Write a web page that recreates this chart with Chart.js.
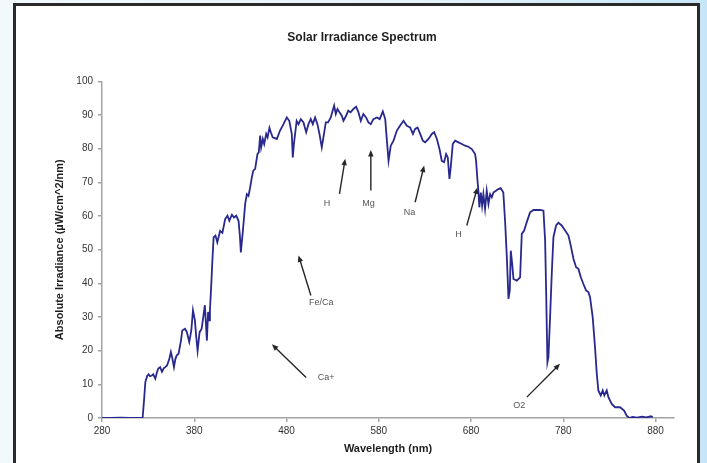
<!DOCTYPE html>
<html>
<head>
<meta charset="utf-8">
<title>Solar Irradiance Spectrum</title>
<script src="https://cdn.jsdelivr.net/npm/chart.js@4.4.1/dist/chart.umd.min.js"></script>
<style>
    html, body {
        margin: 0;
        padding: 0;
        width: 707px;
        height: 463px;
        overflow: hidden;
        background: linear-gradient(to right, #f2f9fd 0%, #e4f2fb 60%, #c6e6f7 100%);
    }
    #frame {
        position: absolute;
        left: 13px;
        top: 3px;
        width: 681px;
        height: 480px;
        background: #ffffff;
        border: 3px solid #2a2a2a;
    }
    #spectrum {
        position: absolute;
        left: 0;
        top: 0;
    }
</style>
</head>
<body>
<div id="frame"></div>
<canvas id="spectrum" width="707" height="463"></canvas>

<script>
// Spectrum data (wavelength in nm, irradiance in uW/cm^2/nm)
const wavelengths = [
    280, 290, 300, 310, 320, 324, 325.5, 327, 329, 330.5, 332, 334, 335.5, 337.8, 339.5,
    341, 343, 345, 347, 348.6, 350.5, 353, 354.7, 356, 358, 359.5, 361, 363, 365.6, 367,
    370, 372, 374.6, 376.8, 378.6, 380.7, 382, 383.6, 385.8, 388, 390, 391.5, 393.7, 395, 396,
    397, 398.5, 399.5, 401, 403, 405, 408, 410.5, 413.5, 416, 418, 420.8, 423, 425.5, 428,
    429.5, 430.5, 432.7, 435.2, 437, 438.8, 440.6, 442.4, 444, 446, 448.5, 450, 451.4, 452.5, 454.3,
    455.8, 458, 459.5, 461.5, 463, 465, 469.5, 473, 476.7, 480.3, 483, 485.7, 486.8, 488, 491,
    493, 495.5, 498.4, 501.3, 503.8, 506.3, 508.5, 511, 513.5, 515.7, 518.2, 520, 522.6, 525, 528,
    530, 531.6, 533.4, 535.2, 537.5, 539.9, 541.7, 544.6, 547, 549.5, 552.5, 555.4, 558, 560.5, 563.3,
    566.2, 568.8, 571.3, 574.2, 578, 581, 584.4, 587, 588.8, 590.6, 593, 596, 599.6, 603, 606.8,
    610.4, 614, 617, 619.4, 622, 624.9, 627.7, 630.3, 633.9, 637.5, 640, 643, 645.8, 648.3, 650.8,
    653, 654.8, 656.6, 658, 660.2, 662.8, 666.4, 670, 673.6, 677.2, 680.8, 684.4, 685.5, 687, 688,
    689, 690.6, 692, 693.4, 695.2, 697, 698.9, 700.7, 702.5, 704.3, 707, 709.7, 712.2, 715, 717,
    718.8, 720.6, 722, 723.1, 724.6, 726, 729.6, 733.2, 735, 737.6, 740.4, 744, 747.7, 751, 754.9,
    758.5, 760.3, 761.4, 762.8, 763.9, 765.7, 767.5, 769.3, 772.2, 774.7, 778.3, 782, 785.6, 788.1, 791,
    793.9, 796.4, 799, 801.8, 804.7, 807.2, 809, 811.9, 814.4, 816.3, 818, 820.6, 822.7, 824.5, 827.1,
    828.9, 832.5, 836.1, 841.5, 845.9, 848.7, 851.6, 855, 860, 865, 870, 875, 877
];
const irradiance = [
    0, 0, 0.1, 0, 0, 0, 5, 10.7, 12.5, 13, 12.4, 12.6, 13, 11.7, 13.5,
    14.7, 15.1, 13.7, 14.8, 15.1, 15.6, 17.6, 19.6, 18.1, 15.1, 17.5, 18.6, 19.1, 23, 26,
    26.5, 25.5, 22.6, 26, 32, 29, 24.5, 20, 25.5, 26.5, 30.5, 33.5, 23, 31.5, 29,
    32, 40, 46, 53.7, 54.2, 52.2, 55.6, 55, 59.1, 60.1, 58.6, 60.4, 59.6, 60.1, 58.6,
    54, 49.2, 55.6, 63.6, 66.5, 66, 68.5, 71.5, 73.5, 74, 78.4, 79, 83.9, 80.4, 82.9,
    81.4, 84.4, 83.4, 86.2, 84.9, 83.4, 82.9, 85.4, 87.3, 89.3, 88.3, 84.4, 77.4, 81.4, 88.3,
    87.3, 88.8, 87.8, 84.9, 87.3, 88.8, 87.3, 89.3, 87.3, 84.4, 80.4, 83.4, 87.8, 87.8, 89.3,
    91.3, 92.8, 90.3, 91.8, 90.8, 89.8, 88.3, 89.8, 91.3, 90.8, 91.8, 92.5, 90.8, 88.3, 90.3,
    89.3, 87.8, 87.3, 88.8, 89.3, 88.8, 91.1, 88.8, 82.4, 76.4, 80.9, 82.4, 85.4, 86.8, 88.3,
    86.8, 86.3, 84.4, 85.9, 86.3, 84.4, 82.4, 81.9, 82.9, 84.4, 84.9, 82.9, 79.9, 76.4, 76,
    78.4, 77.4, 71, 74.5, 81.4, 82.4, 81.9, 81.4, 80.9, 80.6, 79.9, 78.4, 76.4, 70.5, 67.5,
    62.6, 67, 63.1, 66.5, 62.1, 67.5, 63.6, 66.5, 65.6, 67, 67.5, 68, 68.3, 67, 58,
    47.8, 35.4, 37.9, 49.7, 45.8, 41.3, 40.8, 41.8, 54.7, 55.7, 58.2, 61.1, 61.8, 61.8, 61.8,
    61.6, 52.7, 37.9, 16.6, 18.1, 30, 42.8, 53.7, 57.2, 58, 57.2, 55.7, 54.2, 51.2, 47.3,
    44.8, 44.3, 41.8, 39.8, 37.9, 37.4, 35.9, 29.9, 21, 13.1, 8.2, 6.7, 8.2, 6.7, 8.2,
    6.2, 4.2, 3.2, 3.2, 2.2, 0.7, 0, 0.3, 0.1, 0.4, 0.2, 0.5, 0.2
];

// Axis ticks
const xTicks = [280, 380, 480, 580, 680, 780, 880];
const yTicks = [0, 10, 20, 30, 40, 50, 60, 70, 80, 90, 100];

// Annotations (positions in data units: wavelength, irradiance)
const annoLabels = ['H', 'Mg', 'Na', 'H', 'O2', 'Fe/Ca', 'Ca+'];
const annoTextAt = [[524, 63.7], [568.8, 63.7], [613.3, 61.1], [666.3, 54.5], [732.4, 3.8], [517.6, 34.3], [523, 12.1]];
const arrowFrom = [[537.4, 66.6], [571.4, 67.6], [619.4, 64.1], [675.4, 57.2], [740.5, 6.2], [506.4, 36.4], [501.3, 12]];
const arrowTo = [[543.6, 77], [571.4, 79.6], [629.2, 75], [686.9, 68.5], [776.5, 16.1], [493, 48.3], [464.2, 21.9]];

// Plugin to draw the labelled arrows on top of the spectrum
const arrowPlugin = {
    id: 'arrows',
    afterDatasetsDraw(chart) {
        const ctx = chart.ctx;
        const xs = chart.scales.x;
        const ys = chart.scales.y;
        ctx.save();
        annoLabels.forEach(function(label, i) {
            const x1 = xs.getPixelForValue(arrowFrom[i][0]);
            const y1 = ys.getPixelForValue(arrowFrom[i][1]);
            const x2 = xs.getPixelForValue(arrowTo[i][0]);
            const y2 = ys.getPixelForValue(arrowTo[i][1]);
            const ang = Math.atan2(y2 - y1, x2 - x1);
            const head = 7;

            ctx.strokeStyle = '#262626';
            ctx.fillStyle = '#262626';
            ctx.lineWidth = 1.4;
            ctx.beginPath();
            ctx.moveTo(x1, y1);
            ctx.lineTo(x2 - Math.cos(ang) * head * 0.8, y2 - Math.sin(ang) * head * 0.8);
            ctx.stroke();

            ctx.beginPath();
            ctx.moveTo(x2, y2);
            ctx.lineTo(x2 - head * Math.cos(ang - 0.4), y2 - head * Math.sin(ang - 0.4));
            ctx.lineTo(x2 - head * Math.cos(ang + 0.4), y2 - head * Math.sin(ang + 0.4));
            ctx.closePath();
            ctx.fill();

            ctx.fillStyle = '#555555';
            ctx.font = '9px "Liberation Sans", Arial, sans-serif';
            ctx.textAlign = 'center';
            ctx.textBaseline = 'middle';
            ctx.fillText(label, xs.getPixelForValue(annoTextAt[i][0]), ys.getPixelForValue(annoTextAt[i][1]));
        });
        ctx.restore();
    }
};

document.addEventListener('DOMContentLoaded', function() {
    const points = wavelengths.map(function(w, i) {
        return { x: w, y: irradiance[i] };
    });

    const axisGray = '#a3a3a3';
    const fontFamily = '"Liberation Sans", Arial, sans-serif';

    new Chart(document.getElementById('spectrum'), {
        type: 'line',
        data: {
            datasets: [{
                data: points,
                borderColor: '#28288e',
                borderWidth: 1.8,
                pointRadius: 0,
                fill: false,
                tension: 0
            }]
        },
        options: {
            responsive: false,
            animation: false,
            layout: {
                padding: { left: 50, right: 33, top: 0, bottom: 0 }
            },
            plugins: {
                legend: { display: false },
                tooltip: { enabled: false },
                title: {
                    display: true,
                    text: 'Solar Irradiance Spectrum',
                    color: '#1e1e1e',
                    font: { family: fontFamily, size: 12, weight: 'bold' },
                    padding: { top: 30, bottom: 37 }
                }
            },
            scales: {
                x: {
                    type: 'linear',
                    min: 280,
                    max: 900,
                    afterBuildTicks: function(scale) {
                        scale.ticks = xTicks.map(function(v) { return { value: v }; });
                    },
                    afterFit: function(scale) {
                        scale.height = 45;
                    },
                    border: { display: true, color: axisGray, width: 1.5 },
                    grid: {
                        display: true,
                        drawOnChartArea: false,
                        drawTicks: true,
                        tickLength: 4,
                        color: axisGray,
                        lineWidth: 1.5
                    },
                    ticks: {
                        color: '#333333',
                        font: { family: fontFamily, size: 10 },
                        padding: 3,
                        maxRotation: 0,
                        autoSkip: false
                    },
                    title: {
                        display: true,
                        text: 'Wavelength (nm)',
                        color: '#1e1e1e',
                        font: { family: fontFamily, size: 11, weight: 'bold' },
                        padding: { top: 0, bottom: 7 }
                    }
                },
                y: {
                    type: 'linear',
                    min: 0,
                    max: 100,
                    afterBuildTicks: function(scale) {
                        scale.ticks = yTicks.map(function(v) { return { value: v }; });
                    },
                    afterFit: function(scale) {
                        scale.width = 52;
                    },
                    border: { display: true, color: axisGray, width: 1.5 },
                    grid: {
                        display: true,
                        drawOnChartArea: false,
                        drawTicks: true,
                        tickLength: 4,
                        color: axisGray,
                        lineWidth: 1.5
                    },
                    ticks: {
                        color: '#333333',
                        font: { family: fontFamily, size: 10 },
                        padding: 5
                    },
                    title: {
                        display: true,
                        text: 'Absolute Irradiance (µW/cm^2/nm)',
                        color: '#1e1e1e',
                        font: { family: fontFamily, size: 11, weight: 'bold' },
                        padding: { top: 3, bottom: 0 }
                    }
                }
            }
        },
        plugins: [arrowPlugin]
    });
});
</script>
</body>
</html>
